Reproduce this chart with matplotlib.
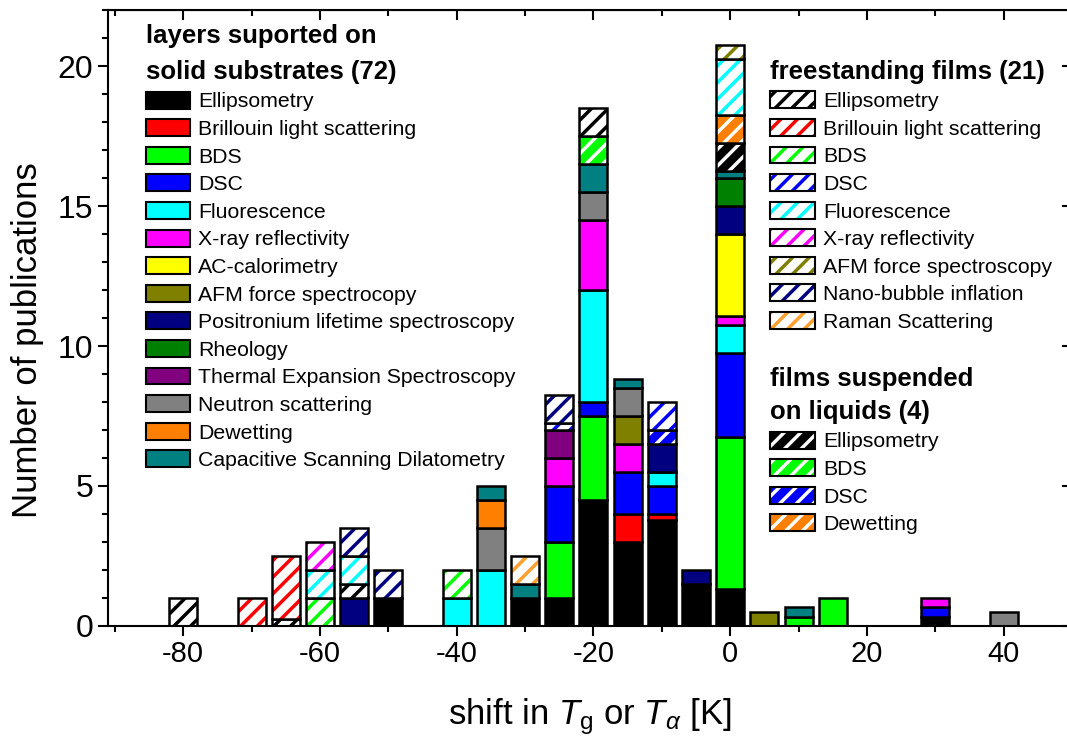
import numpy as np
import matplotlib.pyplot as plt
from matplotlib.patches import Patch
from matplotlib.ticker import MultipleLocator

plt.rcParams['font.family'] = ['Liberation Sans', 'DejaVu Sans']
plt.rcParams['mathtext.fontset'] = 'custom'
plt.rcParams['mathtext.rm'] = 'Liberation Sans'
plt.rcParams['mathtext.it'] = 'Liberation Sans:italic'
plt.rcParams['hatch.linewidth'] = 2.5
plt.rcParams['axes.unicode_minus'] = False

# bar positions (shift in K)
shift = np.array([-80, -70, -65, -60, -55, -50, -40, -35, -30, -25,
                  -20, -15, -10, -5, 0, 5, 10, 15, 30, 40])

# layers supported on solid substrates
sup_ellipsometry = [0, 0, 0, 0, 0, 1, 0, 0, 1, 1, 4.5, 3, 3.8, 1.5, 1.33, 0, 0, 0, 0.33, 0]
sup_brillouin = [0, 0, 0, 0, 0, 0, 0, 0, 0, 0, 0, 1, 0.2, 0, 0, 0, 0, 0, 0, 0]
sup_bds = [0, 0, 0, 0, 0, 0, 0, 0, 0, 2, 3, 0, 0, 0, 5.42, 0, 0.33, 1, 0, 0]
sup_dsc = [0, 0, 0, 0, 0, 0, 0, 0, 0, 2, 0.5, 1.5, 1, 0, 3, 0, 0, 0, 0.33, 0]
sup_fluorescence = [0, 0, 0, 0, 0, 0, 1, 2, 0, 0, 4, 0, 0.5, 0, 1, 0, 0, 0, 0, 0]
sup_xray = [0, 0, 0, 0, 0, 0, 0, 0, 0, 1, 2.5, 1, 0, 0, 0.33, 0, 0, 0, 0.33, 0]
sup_accal = [0, 0, 0, 0, 0, 0, 0, 0, 0, 0, 0, 0, 0, 0, 2.92, 0, 0, 0, 0, 0]
sup_afm = [0, 0, 0, 0, 0, 0, 0, 0, 0, 0, 0, 1, 0, 0, 0, 0.5, 0, 0, 0, 0]
sup_positronium = [0, 0, 0, 0, 1, 0, 0, 0, 0, 0, 0, 0, 1, 0.5, 1, 0, 0, 0, 0, 0]
sup_rheology = [0, 0, 0, 0, 0, 0, 0, 0, 0, 0, 0, 0, 0, 0, 1, 0, 0, 0, 0, 0]
sup_thermal = [0, 0, 0, 0, 0, 0, 0, 0, 0, 1, 0, 0, 0, 0, 0, 0, 0, 0, 0, 0]
sup_neutron = [0, 0, 0, 0, 0, 0, 0, 1.5, 0, 0, 1, 1, 0, 0, 0, 0, 0, 0, 0, 0.5]
sup_dewetting = [0, 0, 0, 0, 0, 0, 0, 1, 0, 0, 0, 0, 0, 0, 0, 0, 0, 0, 0, 0]
sup_csd = [0, 0, 0, 0, 0, 0, 0, 0.5, 0.5, 0, 1, 0.33, 0, 0, 0.25, 0, 0.33, 0, 0, 0]

# films suspended on liquids
liq_ellipsometry = [0, 0, 0, 0, 0, 0, 0, 0, 0, 0, 0, 0, 0, 0, 1, 0, 0, 0, 0, 0]
liq_bds = [0, 0, 0, 0, 0, 0, 0, 0, 0, 0, 1, 0, 0, 0, 0, 0, 0, 0, 0, 0]
liq_dsc = [0, 0, 0, 0, 0, 0, 0, 0, 0, 0, 0, 0, 0.5, 0, 0, 0, 0, 0, 0, 0]
liq_dewetting = [0, 0, 0, 0, 0, 0, 0, 0, 0, 0, 0, 0, 0, 0, 1, 0, 0, 0, 0, 0]

# freestanding films
fs_ellipsometry = [1, 0, 0.25, 0, 0.5, 0, 0, 0, 0, 0, 1, 0, 0, 0, 0, 0, 0, 0, 0, 0]
fs_brillouin = [0, 1, 2.25, 0, 0, 0, 0, 0, 0, 0, 0, 0, 0, 0, 0, 0, 0, 0, 0, 0]
fs_bds = [0, 0, 0, 1, 0, 0, 1, 0, 0, 0, 0, 0, 0, 0, 0, 0, 0, 0, 0, 0]
fs_dsc = [0, 0, 0, 0, 0, 0, 0, 0, 0, 0.25, 0, 0, 1, 0, 0, 0, 0, 0, 0, 0]
fs_fluorescence = [0, 0, 0, 1, 1, 0, 0, 0, 0, 0, 0, 0, 0, 0, 2, 0, 0, 0, 0, 0]
fs_xray = [0, 0, 0, 1, 0, 0, 0, 0, 0, 0, 0, 0, 0, 0, 0, 0, 0, 0, 0, 0]
fs_afm = [0, 0, 0, 0, 0, 0, 0, 0, 0, 0, 0, 0, 0, 0, 0.5, 0, 0, 0, 0, 0]
fs_nanobubble = [0, 0, 0, 0, 1, 1, 0, 0, 0, 1, 0, 0, 0, 0, 0, 0, 0, 0, 0, 0]
fs_raman = [0, 0, 0, 0, 0, 0, 0, 0, 1, 0, 0, 0, 0, 0, 0, 0, 0, 0, 0, 0]

supported = [
    ('Ellipsometry', sup_ellipsometry, '#000000'),
    ('Brillouin light scattering', sup_brillouin, '#ff0000'),
    ('BDS', sup_bds, '#00ff00'),
    ('DSC', sup_dsc, '#0000ff'),
    ('Fluorescence', sup_fluorescence, '#00ffff'),
    ('X-ray reflectivity', sup_xray, '#ff00ff'),
    ('AC-calorimetry', sup_accal, '#ffff00'),
    ('AFM force spectrocopy', sup_afm, '#808000'),
    ('Positronium lifetime spectroscopy', sup_positronium, '#000080'),
    ('Rheology', sup_rheology, '#008000'),
    ('Thermal Expansion Spectroscopy', sup_thermal, '#800080'),
    ('Neutron scattering', sup_neutron, '#808080'),
    ('Dewetting', sup_dewetting, '#ff8000'),
    ('Capacitive Scanning Dilatometry', sup_csd, '#008080'),
]
liquids = [
    ('Ellipsometry', liq_ellipsometry, '#000000'),
    ('BDS', liq_bds, '#00ff00'),
    ('DSC', liq_dsc, '#0000ff'),
    ('Dewetting', liq_dewetting, '#ff8000'),
]
freestanding = [
    ('Ellipsometry', fs_ellipsometry, '#000000'),
    ('Brillouin light scattering', fs_brillouin, '#ff0000'),
    ('BDS', fs_bds, '#00ff00'),
    ('DSC', fs_dsc, '#0000ff'),
    ('Fluorescence', fs_fluorescence, '#00ffff'),
    ('X-ray reflectivity', fs_xray, '#ff00ff'),
    ('AFM force spectroscopy', fs_afm, '#808000'),
    ('Nano-bubble inflation', fs_nanobubble, '#000080'),
    ('Raman Scattering', fs_raman, '#ffa030'),
]

width = 4.1
lw = 1.8

fig = plt.figure(figsize=(10.67, 7.38), dpi=100)
ax = fig.add_axes([0.1012, 0.152, 0.9035, 0.834])

bottom = np.zeros(len(shift))


def draw(values, color, style):
    global bottom
    v = np.array(values, dtype=float)
    m = v > 0
    x, h, b = shift[m], v[m], bottom[m]
    if style == 'solid':
        ax.bar(x, h, width, bottom=b, color=color, edgecolor='black',
               linewidth=lw)
    elif style == 'free':
        ax.bar(x, h, width, bottom=b, facecolor='white', edgecolor=color,
               hatch='//', linewidth=0)
        ax.bar(x, h, width, bottom=b, fill=False, edgecolor='black',
               linewidth=lw)
    else:
        ax.bar(x, h, width, bottom=b, facecolor=color, edgecolor='white',
               hatch='//', linewidth=0)
        ax.bar(x, h, width, bottom=b, fill=False, edgecolor='black',
               linewidth=lw)
    bottom = bottom + v


for name, vals, c in supported:
    draw(vals, c, 'solid')
for name, vals, c in liquids:
    draw(vals, c, 'liquid')
for name, vals, c in freestanding:
    draw(vals, c, 'free')

ax.set_xlim(-91, 50)
ax.set_ylim(0, 22)
ax.xaxis.set_major_locator(MultipleLocator(20))
ax.xaxis.set_minor_locator(MultipleLocator(10))
ax.yaxis.set_major_locator(MultipleLocator(5))
ax.yaxis.set_minor_locator(MultipleLocator(1))
ax.tick_params(which='major', direction='out', length=7, width=1.5)
ax.tick_params(axis='x', labelsize=21)
ax.tick_params(axis='y', labelsize=23)
ax.tick_params(which='minor', direction='out', length=4, width=1.5)
for s in ax.spines.values():
    s.set_linewidth(1.5)
ax.spines['right'].set_visible(False)

secx = ax.secondary_xaxis('top')
secx.xaxis.set_major_locator(MultipleLocator(20))
secx.xaxis.set_minor_locator(MultipleLocator(10))
secx.tick_params(which='both', direction='in', labeltop=False, width=1.5)
secx.tick_params(which='major', length=7)
secx.tick_params(which='minor', length=4)
secy = ax.secondary_yaxis('right')
secy.spines['right'].set_visible(False)
secy.yaxis.set_major_locator(MultipleLocator(5))
secy.yaxis.set_minor_locator(MultipleLocator(1))
secy.tick_params(which='both', direction='in', labelright=False, width=1.5)
secy.tick_params(which='major', length=7)
secy.tick_params(which='minor', length=3, color='#bbbbbb')

ax.set_ylabel('Number of publications', fontsize=25)
ax.yaxis.set_label_coords(-0.066, 0.464)
ax.set_xlabel(r'shift in $T_\mathrm{g}$ or $T_\alpha$ [K]', fontsize=25,
              labelpad=20)


def solid_handle(c):
    return Patch(facecolor=c, edgecolor='black', linewidth=1.5)


def free_handle(c):
    return (Patch(facecolor='white', edgecolor=c, hatch='//', linewidth=0),
            Patch(fill=False, edgecolor='black', linewidth=1.5))


def liquid_handle(c):
    return (Patch(facecolor=c, edgecolor='white', hatch='//', linewidth=0),
            Patch(fill=False, edgecolor='black', linewidth=1.5))


common = dict(frameon=False, fontsize=15.3, handlelength=2.1,
              handleheight=0.85, labelspacing=0.365, handletextpad=0.38,
              borderpad=0, borderaxespad=0, alignment='left',
              title_fontproperties={'weight': 'bold', 'size': 18.5},
              loc='upper left')

leg1 = ax.legend([solid_handle(c) for _, _, c in supported],
                 [n for n, _, _ in supported],
                 title='layers suported on\nsolid substrates (72)',
                 bbox_to_anchor=(0.039, 0.977), **common)
leg1.get_title().set_linespacing(1.6)
ax.add_artist(leg1)
leg2 = ax.legend([free_handle(c) for _, _, c in freestanding],
                 [n for n, _, _ in freestanding],
                 title='freestanding films (21)',
                 bbox_to_anchor=(0.687, 0.92), **common)
ax.add_artist(leg2)
leg3 = ax.legend([liquid_handle(c) for _, _, c in liquids],
                 [n for n, _, _ in liquids],
                 title='films suspended\non liquids (4)',
                 bbox_to_anchor=(0.687, 0.42), **common)
leg3.get_title().set_linespacing(1.45)

fig.savefig('out.png', dpi=100)
